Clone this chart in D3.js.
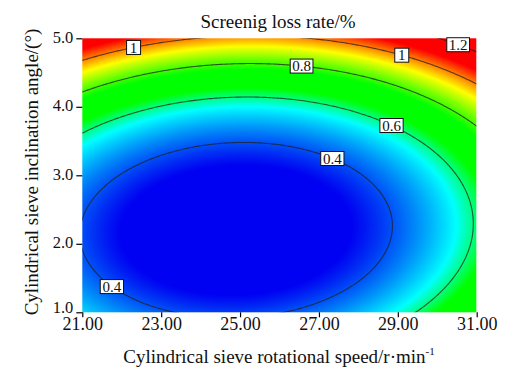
<!DOCTYPE html>
<html>
<head>
<meta charset="utf-8">
<script src="https://cdn.jsdelivr.net/npm/d3@7"></script>
<style>
  body { margin: 0; background: #fff; }
  svg { display: block; font-family: "Liberation Serif", "Times New Roman", serif; }
</style>
</head>
<body>
<svg id="chart" width="510" height="368"></svg>
<script>
// design ranges
const speedRange = [21, 31];
const angleRange = [1, 5];
const speedTicks = [21, 23, 25, 27, 29, 31];
const angleTicks = [1, 2, 3, 4, 5];

// fitted response surface, coded units A=(speed-26)/5, B=(angle-3)/2
// terms: const, A, B, AB, A^2, B^2
const coef = [0.316, 0.096, 0.294, -0.029, 0.245, 0.375];

// contour levels and the labelled ones (level, speed, which branch)
const levels = [0.4, 0.6, 0.8, 1.0, 1.2];
const labelLevels = [1, 1, 1.2, 0.8, 0.6, 0.4, 0.4];
const labelSpeeds = [22.3, 29.1, 30.53, 26.56, 28.84, 27.34, 21.75];
const labelBranch = [1, 1, 1, 1, 1, 1, -1];

// colour map
const colorStops = [0.33, 0.55, 0.65, 0.76, 0.92, 1.08];
const colorRange = ["#0000f2", "#00ffff", "#00ff00", "#00ff00", "#ffff00", "#ff0000"];

const W = 510, H = 368;
const margin = { top: 38.3, right: 33.3, bottom: 55.7, left: 82.3 };

const svg = d3.select("#chart");

const x = d3.scaleLinear(speedRange, [margin.left, W - margin.right]);
const y = d3.scaleLinear(angleRange, [H - margin.bottom, margin.top]);
const color = d3.scaleLinear(colorStops, colorRange).clamp(true);

function loss(speed, angle) {
  const A = (speed - 26) / 5, B = (angle - 3) / 2;
  return coef[0] + coef[1] * A + coef[2] * B + coef[3] * A * B + coef[4] * A * A + coef[5] * B * B;
}

// colour field
const pw = Math.round(x.range()[1] - x.range()[0]);
const ph = Math.round(y.range()[0] - y.range()[1]);
const canvas = document.createElement("canvas");
canvas.width = pw; canvas.height = ph;
const ctx = canvas.getContext("2d");
const img = ctx.createImageData(pw, ph);
for (let j = 0; j < ph; j++) {
  for (let i = 0; i < pw; i++) {
    const c = d3.rgb(color(loss(x.invert(margin.left + i + 0.5), y.invert(margin.top + j + 0.5))));
    const k = (j * pw + i) * 4;
    img.data[k] = c.r; img.data[k + 1] = c.g; img.data[k + 2] = c.b; img.data[k + 3] = 255;
  }
}
ctx.putImageData(img, 0, 0);

svg.append("image")
  .attr("x", margin.left).attr("y", margin.top)
  .attr("width", pw).attr("height", ph)
  .attr("preserveAspectRatio", "none")
  .attr("href", canvas.toDataURL());

// contour lines
const ds = 0.05, da = 0.02, pad = 3;
const nx = Math.round((speedRange[1] - speedRange[0]) / ds) + 1 + 2 * pad;
const ny = Math.round((angleRange[1] - angleRange[0]) / da) + 1 + 2 * pad;
const s0 = speedRange[0] - pad * ds, a0 = angleRange[0] - pad * da;
const grid = new Array(nx * ny);
for (let j = 0; j < ny; j++)
  for (let i = 0; i < nx; i++)
    grid[j * nx + i] = loss(s0 + i * ds, a0 + j * da);

const contours = d3.contours().size([nx, ny]).thresholds(levels)(grid);
const proj = d3.geoTransform({
  point(cx, cy) {
    this.stream.point(x(s0 + (cx - 0.5) * ds), y(a0 + (cy - 0.5) * da));
  }
});

svg.append("clipPath").attr("id", "plot-clip")
  .append("rect")
  .attr("x", margin.left).attr("y", margin.top)
  .attr("width", pw).attr("height", ph);

svg.append("g")
  .attr("clip-path", "url(#plot-clip)")
  .attr("fill", "none")
  .attr("stroke", "#202020")
  .attr("stroke-opacity", 0.75)
  .attr("stroke-width", 1.1)
  .selectAll("path")
  .data(contours)
  .join("path")
  .attr("d", d3.geoPath(proj));

// axes
const yAxis = svg.append("g")
  .attr("transform", `translate(${margin.left},0)`)
  .call(d3.axisLeft(y).tickValues(angleTicks).tickFormat(d3.format(".1f")).tickSize(6).tickPadding(3));
const xAxis = svg.append("g")
  .attr("transform", `translate(0,${H - margin.bottom})`)
  .call(d3.axisBottom(x).tickValues(speedTicks).tickFormat(d3.format(".2f")).tickSize(5).tickPadding(0));
[xAxis, yAxis].forEach(g => {
  g.select(".domain").remove();
  g.selectAll(".tick line").attr("stroke", "#000").attr("stroke-width", 1.2);
  g.selectAll("text").attr("font-family", "Liberation Serif, serif").attr("fill", "#111");
});
xAxis.selectAll("text").attr("font-size", 18);
yAxis.selectAll("text").attr("font-size", 16.5)
  .attr("dy", d => d === angleRange[0] ? "0em" : "0.24em");

// contour labels, placed on the curve for the given speed
function angleOn(level, speed, branch) {
  const A = (speed - 26) / 5;
  const qa = coef[5], qb = coef[2] + coef[3] * A;
  const qc = coef[0] + coef[1] * A + coef[4] * A * A - level;
  const B = (-qb + branch * Math.sqrt(qb * qb - 4 * qa * qc)) / (2 * qa);
  return 3 + 2 * B;
}

const lab = svg.append("g").attr("font-size", 15).attr("font-family", "Liberation Serif, serif");
labelLevels.forEach((lv, k) => {
  const px = x(labelSpeeds[k]);
  const py = y(angleOn(lv, labelSpeeds[k], labelBranch[k]));
  const g = lab.append("g");
  const rect = g.append("rect").attr("fill", "#fff").attr("stroke", "#111").attr("stroke-width", 1);
  const t = g.append("text")
    .attr("x", px).attr("y", py).attr("dy", "0.35em")
    .attr("text-anchor", "middle").attr("fill", "#111")
    .text(d3.format("~g")(lv));
  const bb = t.node().getBBox();
  const w = Math.max(bb.width + 4, 14);
  rect.attr("x", px - w / 2).attr("y", py - 7).attr("width", w).attr("height", 14);
});

// titles
svg.append("text")
  .attr("x", 278).attr("y", 28)
  .attr("text-anchor", "middle").attr("font-size", 19).attr("fill", "#111")
  .text("Screenig loss rate/%");

const xt = svg.append("text")
  .attr("x", 279).attr("y", 363)
  .attr("text-anchor", "middle").attr("font-size", 19).attr("fill", "#111")
  .text("Cylindrical sieve rotational speed/r·min");
xt.append("tspan").attr("font-size", 11).attr("dy", -8).text("-1");

svg.append("text")
  .attr("transform", "translate(38,172) rotate(-90)")
  .attr("text-anchor", "middle").attr("font-size", 19).attr("fill", "#111")
  .text("Cylindrical sieve inclination angle/(°)");
</script>
</body>
</html>
